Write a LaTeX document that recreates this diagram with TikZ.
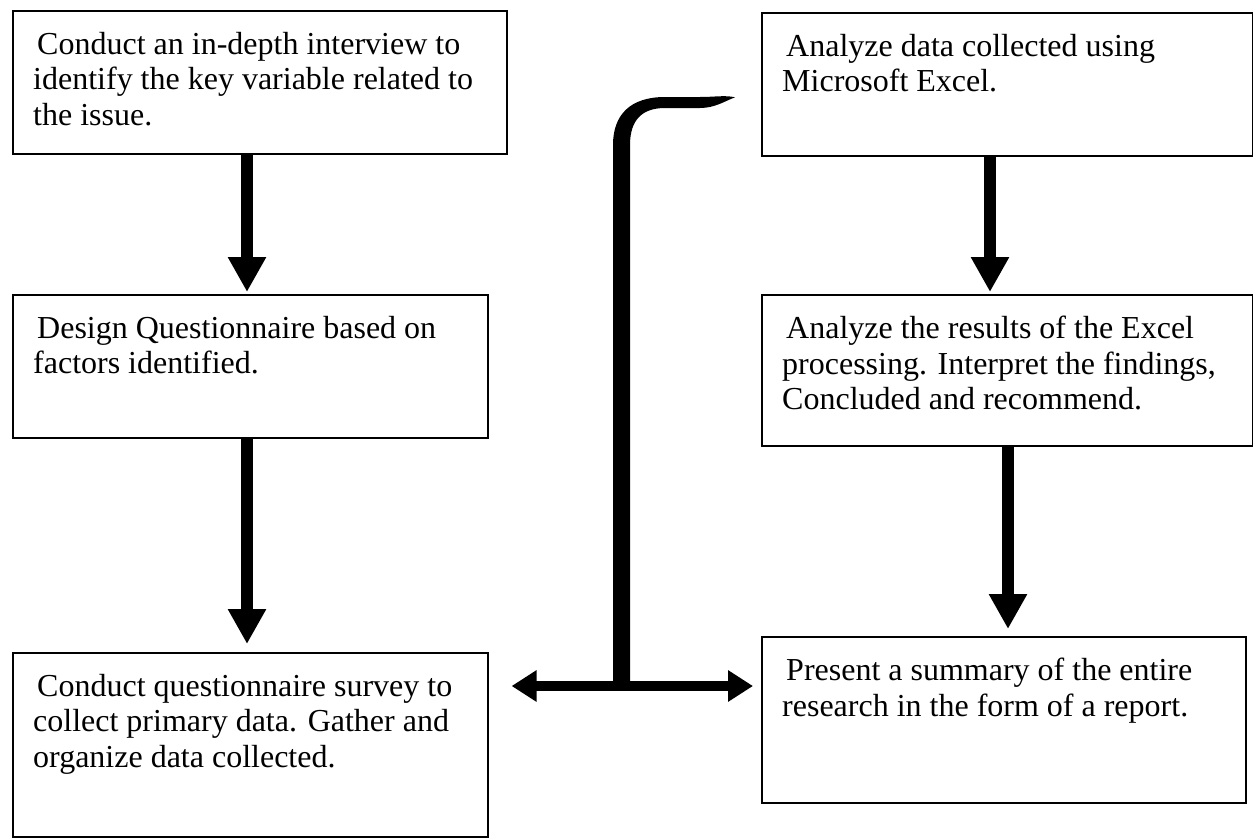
\documentclass[tikz,border=0pt]{standalone}
\usepackage{fontspec}
\setmainfont{Liberation Serif}
\usetikzlibrary{arrows.meta,calc}
\begin{document}
\begin{tikzpicture}[x=1pt,y=-1pt,
  boxstyle/.style={draw, line width=1.6pt, inner sep=0pt, anchor=north west},
  txt/.style={anchor=north west, align=left, inner sep=0pt, font=\fontsize{32}{35.5}\selectfont},
  bigarrow/.style={line width=12pt, -{Triangle[width=36pt,length=35pt]}},
  dblarrow/.style={line width=10pt, {Triangle[width=30pt,length=25pt]}-{Triangle[width=30pt,length=25pt]}},
  ]
\useasboundingbox (0,0) rectangle (1253,838);
% boxes
\node[boxstyle, minimum width=494pt, minimum height=143pt] (b1) at (12,10) {};
\node[boxstyle, minimum width=475pt, minimum height=143pt] (b2) at (12,294) {};
\node[boxstyle, minimum width=475pt, minimum height=184pt] (b3) at (12,652) {};
\node[boxstyle, minimum width=491pt, minimum height=143pt] (b4) at (761,12) {};
\node[boxstyle, minimum width=491pt, minimum height=151pt] (b5) at (761,294) {};
\node[boxstyle, minimum width=484pt, minimum height=166pt] (b6) at (761,636) {};
% texts
\node[txt] (t1) at ($(b1.north west)+(21,22)$) {\hspace{4pt}Conduct an in-depth interview to\\identify the key variable related to\\the issue.};
\node[txt] (t2) at ($(b2.north west)+(21,22)$) {\hspace{4pt}Design Questionnaire based on\\factors identified.};
\node[txt] (t3) at ($(b3.north west)+(21,22)$) {\hspace{4pt}Conduct questionnaire survey to\\collect primary data. Gather and\\organize data collected.};
\node[txt] (t4) at ($(b4.north west)+(21,22)$) {\hspace{4pt}Analyze data collected using\\Microsoft Excel.};
\node[txt] (t5) at ($(b5.north west)+(21,22)$) {\hspace{4pt}Analyze the results of the Excel\\processing. Interpret the findings,\\Concluded and recommend.};
\node[txt] (t6) at ($(b6.north west)+(21,22)$) {\hspace{4pt}Present a summary of the entire\\research in the form of a report.};
% vertical arrows
\draw[bigarrow] ($(b1.south west)+(235,0)$) -- ($(b2.north west)+(235,-2)$);
\draw[bigarrow] ($(b2.south west)+(235,0)$) -- ($(b3.north west)+(235,-8)$);
\draw[bigarrow] ($(b4.south west)+(229,0)$) -- ($(b5.north west)+(229,-2)$);
\draw[bigarrow] ($(b5.south west)+(247,0)$) -- ($(b6.north west)+(247,-7)$);
% horizontal double arrow
\coordinate (hl) at ($(b3.north east)+(23,34)$);
\coordinate (hr) at ($(b6.north west)+(-8,50)$);
\draw[dblarrow] (hl) -- (hr);
% curved connector to top right
\coordinate (tip) at ($(b4.west)+(-26,13)$);
\fill (613,686) -- (613,145) .. controls (613,115) and (630,97) .. (665,97)
  -- (700,97) .. controls (715,97) and (725,95) .. (tip)
  .. controls (725,101) and (715,108) .. (700,108) -- (665,108)
  .. controls (642,108) and (630,120) .. (630,145) -- (630,686) -- cycle;
\end{tikzpicture}
\end{document}
